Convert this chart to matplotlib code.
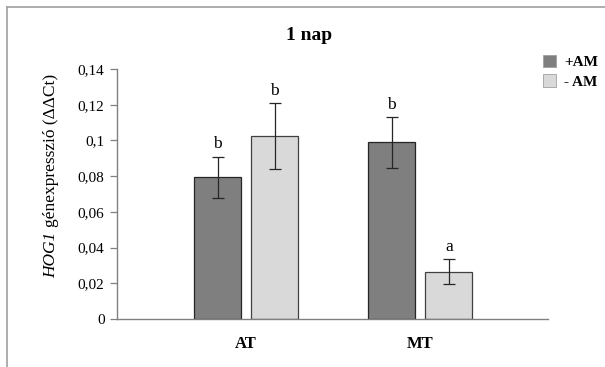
import numpy as np
import matplotlib
matplotlib.use("Agg")
import matplotlib.pyplot as plt
from matplotlib.lines import Line2D
from matplotlib.patches import Patch
from matplotlib.transforms import offset_copy

plt.rcParams['font.family'] = ['Liberation Serif', 'DejaVu Serif']

# data
categories = ['AT', 'MT']
series_names = ['+AM', '- AM']
plus_am = [0.0794, 0.0989]
minus_am = [0.1025, 0.0265]
plus_am_err = [0.0115, 0.0142]
minus_am_err = [0.0183, 0.0069]
plus_am_letters = ['b', 'b']
minus_am_letters = ['b', 'a']
yticks = [0, 0.02, 0.04, 0.06, 0.08, 0.1, 0.12, 0.14]
ytick_labels = ['0', '0,02', '0,04', '0,06', '0,08', '0,1', '0,12', '0,14']

dark = '#7f7f7f'
light = '#d9d9d9'

fig = plt.figure(figsize=(6.05, 3.67), dpi=100)
ax = fig.add_axes([117 / 605, 48 / 367, 431 / 605, 250 / 367])

x = np.arange(len(categories))
w = 0.27
off = 0.164
ax.bar(x - off, plus_am, w, color=dark, edgecolor='#262626', linewidth=0.9,
       yerr=plus_am_err, error_kw=dict(ecolor='#262626', elinewidth=0.9,
                                       capsize=4, capthick=0.9))
ax.bar(x + off, minus_am, w, color=light, edgecolor='#404040', linewidth=0.9,
       yerr=minus_am_err, error_kw=dict(ecolor='#262626', elinewidth=0.9,
                                        capsize=4, capthick=0.9))

for xi, v, e, t in zip(x - off, plus_am, plus_am_err, plus_am_letters):
    ax.text(xi, v + e + 0.0025, t, ha='center', va='bottom', fontsize=12.5)
for xi, v, e, t in zip(x + off, minus_am, minus_am_err, minus_am_letters):
    ax.text(xi, v + e + 0.0025, t, ha='center', va='bottom', fontsize=12.5)

ax.set_xlim(-0.741, 1.733)
ax.set_ylim(0, 0.14)
ax.set_yticks(yticks)
ax.set_yticklabels(ytick_labels, fontsize=11)
ax.set_xticks(x)
ax.set_xticklabels(categories, fontsize=12, fontweight='bold')
ax.tick_params(axis='x', length=0, pad=12)
ax.tick_params(axis='y', length=5, width=0.9, color='#808080', pad=4)
for s in ['top', 'right']:
    ax.spines[s].set_visible(False)
for s in ['left', 'bottom']:
    ax.spines[s].set_color('#808080')
    ax.spines[s].set_linewidth(1.0)

# y label: italic gene name followed by upright text
lab_x, lab_y0 = 51 / 605, 1 - 278 / 367
t1 = fig.text(lab_x, lab_y0, 'HOG1 ', rotation=90, fontsize=12.5,
              style='italic', ha='center', va='bottom')
fig.canvas.draw()
h1 = t1.get_window_extent().height
t2 = fig.text(lab_x, lab_y0, 'génexpresszió (ΔΔCt)', rotation=90,
              fontsize=12.5, ha='center', va='bottom',
              transform=offset_copy(fig.transFigure, fig=fig, x=0,
                                    y=h1 * 72 / fig.dpi, units='points'))

fig.text(309 / 605, 1 - 35 / 367, '1 nap', ha='center', va='center',
         fontsize=14, fontweight='bold')

handles = [Patch(facecolor=dark, edgecolor='#a0a0a0', linewidth=0.6),
           Patch(facecolor=light, edgecolor='#a0a0a0', linewidth=0.6)]
fig.legend(handles, series_names, loc='upper left',
           bbox_to_anchor=(532 / 605, 1 - 44 / 367), frameon=False,
           prop=dict(family='Liberation Serif', weight='bold', size=11),
           handlelength=0.9, handleheight=0.9, handletextpad=0.5,
           labelspacing=0.3, borderpad=0.2)

# grey frame round the picture (top and left only visible)
fig.add_artist(Line2D([7 / 605, 1], [1 - 7 / 367, 1 - 7 / 367],
                      transform=fig.transFigure, color='#a0a0a0', lw=1.2))
fig.add_artist(Line2D([7 / 605, 7 / 605], [0, 1 - 7 / 367],
                      transform=fig.transFigure, color='#a0a0a0', lw=1.2))

fig.savefig('out.png', dpi=100)
